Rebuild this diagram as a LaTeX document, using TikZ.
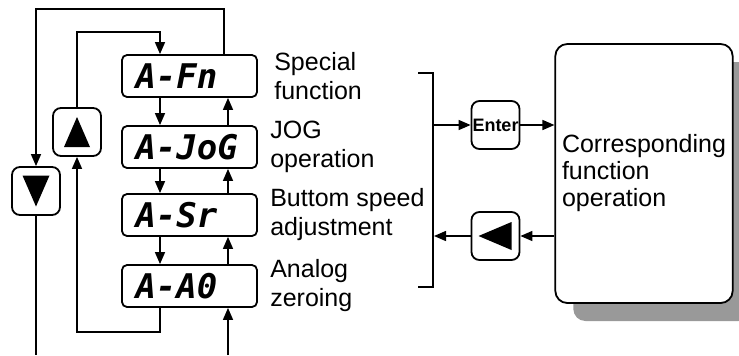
\documentclass[tikz,border=0pt]{standalone}
\usepackage{fontspec}
\setmainfont{Liberation Sans}
\newfontfamily\segfont{DejaVu Sans Mono}
\usetikzlibrary{arrows.meta,positioning,calc,shadows}

\begin{document}
\begin{tikzpicture}[
  x=0.5pt, y=-0.5pt,
  disp/.style={rectangle, rounded corners=2.5pt, draw, line width=0.9pt, text width=54pt, inner xsep=6.75pt, inner ysep=2pt, minimum height=21pt, align=left, font=\segfont\bfseries\itshape\fontsize{17}{17}\selectfont},
  key/.style={rectangle, rounded corners=4pt, draw, line width=0.9pt, minimum width=24pt, minimum height=24pt, inner sep=0pt},
  desc/.style={anchor=west, align=left, inner sep=0pt, font=\fontsize{12.5}{14.5}\selectfont},
  func/.style={rectangle, rounded corners=6pt, draw, line width=0.9pt, fill=white, minimum width=87pt, minimum height=129.5pt, align=left, font=\fontsize{12.5}{13.5}\selectfont, drop shadow={shadow xshift=9pt, shadow yshift=-9pt, fill=black!40, opacity=1}},
  arr/.style={-{Triangle[length=6pt,width=5pt]}, line width=0.75pt},
  wire/.style={line width=0.75pt}
]
  \useasboundingbox (0,0) rectangle (739,355);

  % Display menu
  \node[disp] (fn) at (189.5,76) {A-Fn};
  \node[disp] (jog) at (189.5,147) {A-JoG};
  \node[disp] (sr) at (189.5,215) {A-Sr};
  \node[disp] (ao) at (189.5,286) {A-A0};

  % Descriptions
  \node[desc, right=8pt of fn] (dfn) {Special\\function};
  \node[desc, right=6pt of jog] (djog) {JOG\\operation};
  \node[desc, right=6pt of sr] (dsr) {Buttom speed\\adjustment};
  \node[desc, right=6pt of ao] (dao) {Analog\\zeroing};

  % Keys
  \node[key] (up) at (77,132) {};
  \node[key] (dn) at (36,191) {};
  \node[key, font=\bfseries\fontsize{9}{10}\selectfont] (enter) at (495.5,125) {Enter};
  \node[key] (back) at (495.5,236) {};
  \fill (up.center) ++(0,-15) -- ++(13,30) -- ++(-26,0) -- cycle;
  \fill (dn.center) ++(0,15.5) -- ++(13.5,-31) -- ++(-27,0) -- cycle;
  \fill (back.center) ++(-17,0) -- ++(33,-14) -- ++(0,28) -- cycle;

  % Function box
  \node[func] (op) at (644,173.5) {Corresponding\\function\\operation};

  % Up / down chain
  \coordinate (xl) at (160,0);
  \coordinate (xr) at (228,0);
  \foreach \a/\b in {fn/jog, jog/sr, sr/ao} {
    \draw[arr] (\a.south -| xl) -- (\b.north -| xl);
    \draw[arr] (\b.north -| xr) -- (\a.south -| xr);
  }

  % Loops
  \coordinate (top) at (36,9);
  \coordinate (mid) at (160,32);
  \coordinate (low) at (77,332);
  \coordinate (dnend) at (36,355);
  \coordinate (upend) at (228,355);
  \draw[arr] ([xshift=17.25pt]fn.north) |- (top) -- (dn.north);
  \draw[arr] (up.north) |- (mid) -- (fn.north -| mid);
  \draw[arr] (ao.south -| xl) |- (low) -- (up.south);
  \draw[wire] (dn.south) -- (dnend);
  \draw[arr] (upend) -- (ao.south -| upend);

  % Bracket and enter / back
  \draw[wire] (418,73) -- (433,73) -- (433,287) -- (418,287);
  \coordinate (bin) at (433,125);
  \coordinate (bout) at (434,236);
  \draw[arr] (bin) -- (enter);
  \draw[arr] (enter) -- (op.west |- enter);
  \draw[arr] (op.west |- back) -- (back);
  \draw[arr] (back) -- (bout);
\end{tikzpicture}
\end{document}
